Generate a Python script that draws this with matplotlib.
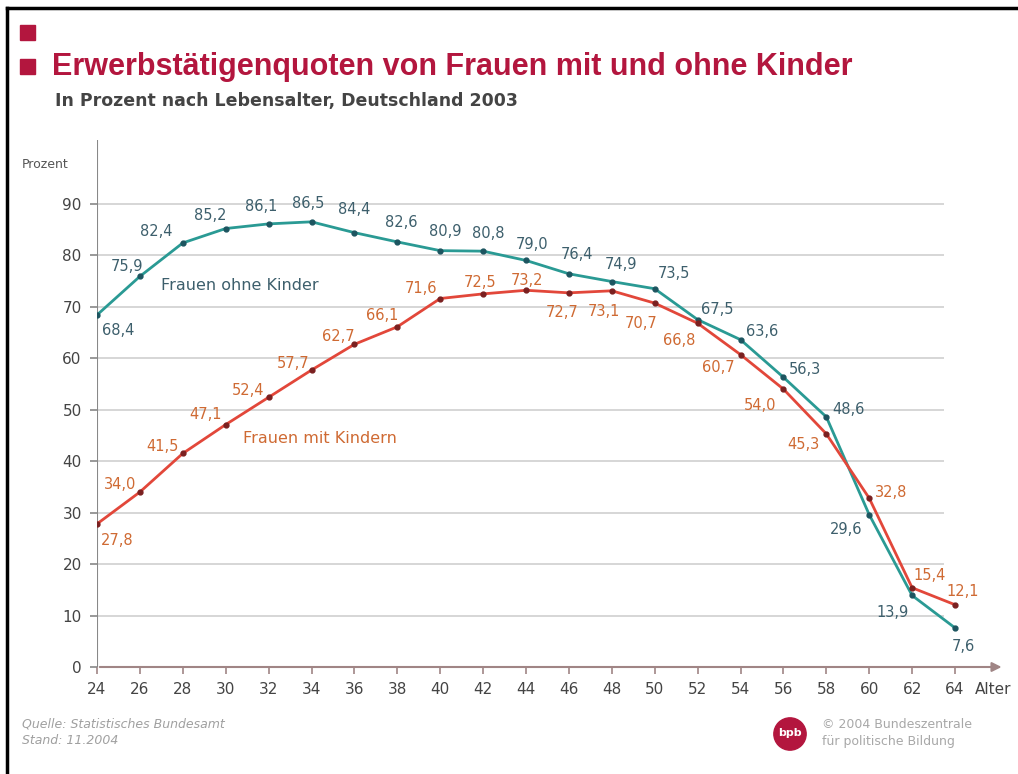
import matplotlib.pyplot as plt
from matplotlib.lines import Line2D
from matplotlib.patches import Rectangle, Circle

ages = list(range(24, 66, 2))
ohne_kinder = [68.4, 75.9, 82.4, 85.2, 86.1, 86.5, 84.4, 82.6, 80.9, 80.8, 79.0,
               76.4, 74.9, 73.5, 67.5, 63.6, 56.3, 48.6, 29.6, 13.9, 7.6]
mit_kindern = [27.8, 34.0, 41.5, 47.1, 52.4, 57.7, 62.7, 66.1, 71.6, 72.5, 73.2,
               72.7, 73.1, 70.7, 66.8, 60.7, 54.0, 45.3, 32.8, 15.4, 12.1]
yticks = list(range(0, 100, 10))

# label offsets in pixels (dx, dy up)
off_ohne = [(21, -16), (-13, 10), (-27, 11), (-15, 13), (-7, 17), (-3, 18), (0, 23),
            (4, 19), (5, 19), (5, 18), (6, 16), (8, 19), (9, 17), (19, 15), (20, 10),
            (22, 8), (22, 8), (22, 7), (-23, -15), (-20, -17), (8, -19)]
off_mit = [(20, -17), (-20, 8), (-20, 7), (-20, 10), (-21, 7), (-18, 7), (-16, 8),
           (-15, 11), (-19, 10), (-3, 11), (1, 10), (-7, -20), (-8, -21), (-14, -20),
           (-18, -17), (-22, -13), (-23, -16), (-23, -11), (22, 6), (18, 12), (8, 13)]

teal = '#2a9a94'
red = '#e2473a'
txt_teal = '#3d5f6c'
txt_red = '#cf6a33'

fig = plt.figure(figsize=(10.18, 7.74), dpi=100)
fig.patch.set_facecolor('white')

# frame
fig.add_artist(Line2D([7 / 1018, 7 / 1018], [0, 1 - 8 / 774], color='black', lw=2.5))
fig.add_artist(Line2D([7 / 1018, 1], [1 - 8 / 774, 1 - 8 / 774], color='black', lw=2.5))

# title squares
for ytop in (25, 59):
    fig.add_artist(Rectangle((20 / 1018, 1 - (ytop + 15) / 774), 15 / 1018, 15 / 774,
                             color='#b3163e', transform=fig.transFigure))
fig.text(52 / 1018, 1 - 67 / 774, 'Erwerbstätigenquoten von Frauen mit und ohne Kinder',
         fontsize=22, fontweight='bold', color='#b3163e', family='Liberation Sans',
         va='center')
fig.text(55 / 1018, 1 - 101 / 774, 'In Prozent nach Lebensalter, Deutschland 2003',
         fontsize=12.5, fontweight='bold', color='#444444', va='center')

ax = fig.add_axes([97 / 1018, 107 / 774, 908 / 1018, 527 / 774])
ax.set_xlim(24, 66.33)
ax.set_ylim(0, 102.4)
for s in ax.spines.values():
    s.set_visible(False)

ax.hlines(yticks[1:], 24, 63.5, color='#cfcfcf', lw=1.2, zorder=1)
ax.axvline(24, color='#888888', lw=1.5, zorder=2)
ax.annotate('', xy=(66.3, 0), xytext=(24, 0),
            arrowprops=dict(arrowstyle='-|>', color='#a08585', lw=1.5,
                            mutation_scale=14), zorder=2)

ax.set_xticks(ages)
ax.set_xticklabels([str(a) for a in ages], fontsize=11, color='#444444')
ax.set_yticks(yticks)
ax.set_yticklabels([str(v) for v in yticks], fontsize=11, color='#444444')
ax.tick_params(axis='x', length=5, width=1.2, color='#a08585', pad=6)
ax.tick_params(axis='y', length=5, width=1.2, color='#888888', pad=6)

ax.plot(ages, ohne_kinder, color=teal, lw=2, marker='o', ms=3.5,
        mfc='#1d5560', mec='#1d5560', zorder=3)
ax.plot(ages, mit_kindern, color=red, lw=2, marker='o', ms=3.5,
        mfc='#7a2020', mec='#7a2020', zorder=3)

for a, v, o in zip(ages, ohne_kinder, off_ohne):
    ax.annotate(f'{v:.1f}'.replace('.', ','), (a, v), xytext=o, textcoords='offset pixels',
                ha='center', va='center', fontsize=10.5, color=txt_teal)
for a, v, o in zip(ages, mit_kindern, off_mit):
    ax.annotate(f'{v:.1f}'.replace('.', ','), (a, v), xytext=o, textcoords='offset pixels',
                ha='center', va='center', fontsize=10.5, color=txt_red)

ax.text(27.0, 74.1, 'Frauen ohne Kinder', fontsize=11.5, color=txt_teal, va='center')
ax.text(30.8, 44.4, 'Frauen mit Kindern', fontsize=11.5, color=txt_red, va='center')

fig.text(22 / 1018, 1 - 165 / 774, 'Prozent', fontsize=9, color='#555555', va='center')
fig.text(975 / 1018, 1 - 690 / 774, 'Alter', fontsize=11, color='#444444', va='center')

# footer
fig.text(22 / 1018, 1 - 724 / 774, 'Quelle: Statistisches Bundesamt', fontsize=9,
         style='italic', color='#a0a0a0', va='center')
fig.text(22 / 1018, 1 - 740 / 774, 'Stand: 11.2004', fontsize=9,
         style='italic', color='#a0a0a0', va='center')
logo = fig.add_axes([773 / 1018, 1 - 751 / 774, 34 / 1018, 34 / 774])
logo.set_xlim(-1, 1)
logo.set_ylim(-1, 1)
logo.axis('off')
logo.add_patch(Circle((0, 0), 0.95, color='#b3163e'))
logo.text(0, 0.05, 'bpb', color='white', fontsize=8, fontweight='bold',
          ha='center', va='center')
fig.text(822 / 1018, 1 - 724 / 774, '© 2004 Bundeszentrale', fontsize=9,
         color='#a8a8a8', va='center')
fig.text(822 / 1018, 1 - 742 / 774, 'für politische Bildung', fontsize=9,
         color='#a8a8a8', va='center')

fig.savefig('out.png', dpi=100, facecolor='white')
